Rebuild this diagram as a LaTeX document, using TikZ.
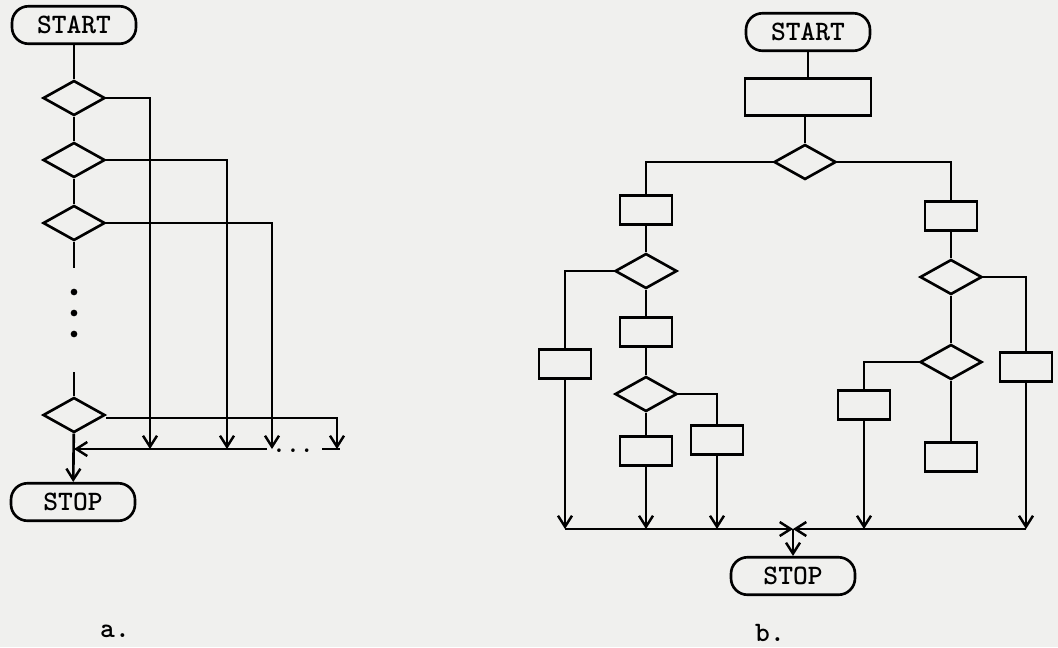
\documentclass[tikz,border=0pt]{standalone}
\usepackage{tikz}
\usetikzlibrary{positioning,arrows.meta,shapes.geometric}
\definecolor{paper}{RGB}{240,240,238}
\tikzset{
  flowline/.style={line width=1.5pt},
  flowarrow/.style={-{Straight Barb[length=2.2mm,width=2.8mm,line width=1.4pt]}, line width=1.5pt},
  termbox/.style={draw, line width=1.5pt, rounded corners=3.3mm, minimum width=24.8mm, minimum height=7.5mm, inner sep=0pt, font=\fontsize{16}{18}\selectfont\ttfamily\bfseries},
  decision/.style={draw, diamond, line width=1.5pt, minimum width=12.4mm, minimum height=7mm, inner sep=0pt},
  procbox/.style={draw, line width=1.5pt, minimum width=10.4mm, minimum height=5.8mm, inner sep=0pt},
  partlabel/.style={anchor=base, font=\fontsize{16}{18}\selectfont\ttfamily\bfseries}
}
\begin{document}
\begin{tikzpicture}[x=0.2mm, y=-0.2mm]
  \fill[paper] (0,0) rectangle (1058,647);
  \useasboundingbox (0,0) rectangle (1058,647);

  % a. chain of tests
  \node[termbox] (startA) at (74,25) {START};
  \node[decision] (dA1) at (74,98) {};
  \node[decision] (dA2) at (74,160) {};
  \node[decision] (dA3) at (74,223) {};
  \node[decision] (dAn) at (74,415) {};
  \node[termbox] (stopA) at (73,502) {STOP};
  \coordinate (gapA1) at (74,268);
  \coordinate (gapA2) at (74,372);
  \foreach \y/\n in {292/1,313/2,334/3}
    \fill (74,\y) circle (1.9pt) coordinate (vdot\n);
  \coordinate (joinA) at (74,449);
  \coordinate (eA1) at (150,449);
  \coordinate (eA2) at (227,449);
  \coordinate (eA3) at (272,449);
  \coordinate (eA4) at (337,449);
  \coordinate (retA) at (267,449);
  \coordinate (tailA1) at (322,449);
  \coordinate (tailA2) at (340,449);
  \node[anchor=base, font=\fontsize{15}{15}\selectfont\ttfamily\bfseries] (ellA) at (293,452) {...};

  \draw[flowline] (startA) -- (dA1);
  \draw[flowline] (dA1) -- (dA2);
  \draw[flowline] (dA2) -- (dA3);
  \draw[flowline] (dA3) -- (gapA1);
  \draw[flowline] (gapA2) -- (dAn);
  \draw[flowarrow] (dA1.east) -| (eA1);
  \draw[flowarrow] (dA2.east) -| (eA2);
  \draw[flowarrow] (dA3.east) -| (eA3);
  \draw[flowarrow] (dAn.east) ++(0,3) -| (eA4);
  \draw[flowarrow] (retA) -- (joinA);
  \draw[flowline] (tailA1) -- (tailA2);
  \draw[flowarrow] (dAn) -- (stopA);
  \node[partlabel] (labA) at (115,637) {a.};

  % b. branching tree
  \node[termbox] (startB) at (808,32) {START};
  \node[procbox, minimum width=25.2mm, minimum height=7.4mm] (pB0) at (808,97) {};
  \node[decision] (dB0) at (805,162) {};
  \node[procbox] (pL1) at (646,210) {};
  \node[decision] (dL1) at (646,271) {};
  \node[procbox] (pLL) at (565,364) {};
  \node[procbox] (pL2) at (646,332) {};
  \node[decision] (dL2) at (646,394) {};
  \node[procbox] (pL3) at (717,440) {};
  \node[procbox] (pL4) at (646,451) {};
  \node[procbox] (pR1) at (951,216) {};
  \node[decision] (dR1) at (951,277) {};
  \node[procbox] (pRR) at (1026,367) {};
  \node[decision] (dR2) at (951,362) {};
  \node[procbox] (pR3) at (864,405) {};
  \node[procbox] (pR4) at (951,457) {};
  \node[termbox] (stopB) at (793,576) {STOP};
  \coordinate (busL) at (565,529);
  \coordinate (busM) at (793,529);
  \coordinate (busR) at (1026,529);

  \draw[flowline] (startB) -- (pB0);
  \draw[flowline] (pB0.south -| dB0) -- (dB0);
  \draw[flowline] (dB0.west) -| (pL1);
  \draw[flowline] (dB0.east) -| (pR1);
  \draw[flowline] (pL1) -- (dL1);
  \draw[flowline] (dL1.west) -| (pLL);
  \draw[flowline] (dL1) -- (pL2);
  \draw[flowline] (pL2) -- (dL2);
  \draw[flowline] (dL2.east) -| (pL3);
  \draw[flowline] (dL2) -- (pL4);
  \draw[flowline] (pR1) -- (dR1);
  \draw[flowline] (dR1.east) -| (pRR);
  \draw[flowline] (dR1) -- (dR2);
  \draw[flowline] (dR2.west) -| (pR3);
  \draw[flowline] (dR2) -- (pR4);
  \draw[flowarrow] (pLL) -- (pLL |- busM);
  \draw[flowarrow] (pL4) -- (pL4 |- busM);
  \draw[flowarrow] (pL3) -- (pL3 |- busM);
  \draw[flowarrow] (pR3) -- (pR3 |- busM);
  \draw[flowarrow] (pRR) -- (pRR |- busM);
  \draw[flowarrow] (busL) -- (busM);
  \draw[flowarrow] (busR) -- (busM);
  \draw[flowarrow] (busM) -- (stopB);
  \node[partlabel] (labB) at (770,641) {b.};
\end{tikzpicture}
\end{document}
